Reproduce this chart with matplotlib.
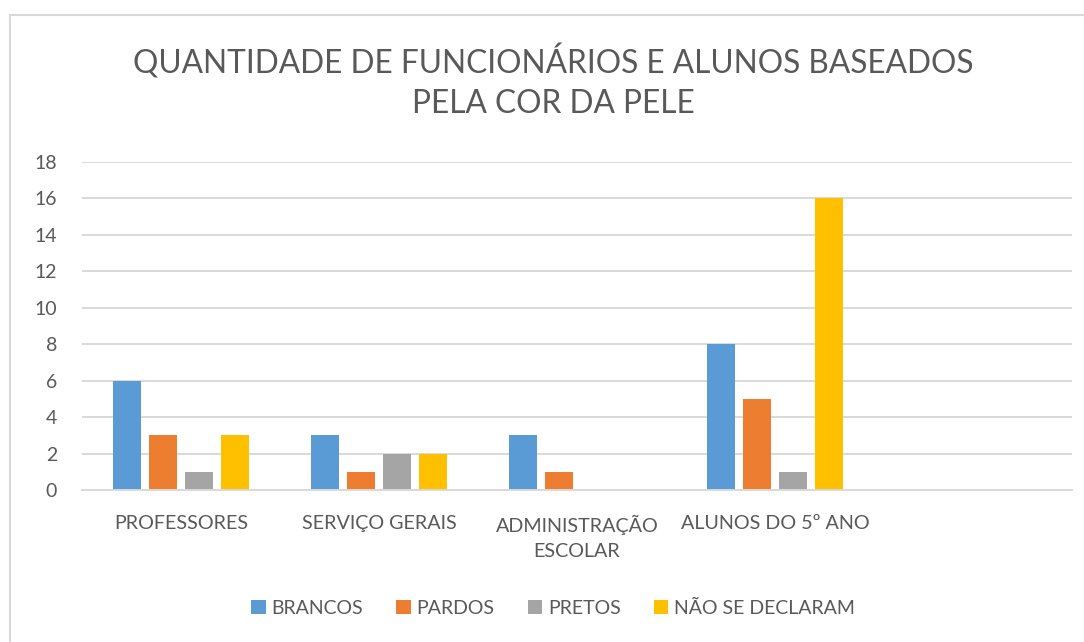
import numpy as np
import matplotlib.pyplot as plt
from matplotlib.patches import Patch
from matplotlib.lines import Line2D

plt.rcParams['font.family'] = ['Lato', 'DejaVu Sans']

# Data
categorias = ['PROFESSORES', 'SERVIÇO GERAIS', 'ADMINISTRAÇÃO\nESCOLAR', 'ALUNOS DO 5º ANO', '']
series = ['BRANCOS', 'PARDOS', 'PRETOS', 'NÃO SE DECLARAM']
brancos = [6, 3, 3, 8, 0]
pardos = [3, 1, 1, 5, 0]
pretos = [1, 2, 0, 1, 0]
nao_declaram = [3, 2, 0, 16, 0]
valores = [brancos, pardos, pretos, nao_declaram]
cores = ['#5B9BD5', '#ED7D31', '#A5A5A5', '#FFC000']

texto_cor = '#595959'
grid_cor = '#D9D9D9'

fig = plt.figure(figsize=(10.84, 6.42), dpi=100)
ax = fig.add_axes([82 / 1084, 1 - 490 / 642, (1072 - 82) / 1084, (490 - 162) / 642])

x = np.arange(len(categorias))
largura = 28 / 198
passo = 36 / 198
for i, (nome, vals, cor) in enumerate(zip(series, valores, cores)):
    ax.bar(x + (i - 1.5) * passo, vals, largura, color=cor, label=nome, zorder=3)

ax.set_xlim(-0.5, len(categorias) - 0.5)
ax.set_ylim(0, 18)
ax.set_yticks(range(0, 19, 2))
ax.set_xticks(x)
ax.set_xticklabels(categorias, fontsize=14.2, color=texto_cor, linespacing=1.55)
ax.tick_params(axis='x', length=0, pad=18)
ax.tick_params(axis='y', length=0, pad=18, labelsize=14, labelcolor=texto_cor)
for lbl in ax.get_yticklabels():
    lbl.set_horizontalalignment('right')
ax.yaxis.grid(True, color=grid_cor, linewidth=1.4, zorder=0)
for s in ['top', 'right', 'left']:
    ax.spines[s].set_visible(False)
ax.spines['bottom'].set_color(grid_cor)
ax.spines['bottom'].set_linewidth(1.4)
ax.spines['bottom'].set_zorder(4)

fig.text(553 / 1084, 1 - 82 / 642, 'QUANTIDADE DE FUNCIONÁRIOS E ALUNOS BASEADOS\nPELA COR DA PELE',
         ha='center', va='center', fontsize=22.8, color=texto_cor, linespacing=1.4)

handles = [Patch(facecolor=c, label=n) for n, c in zip(series, cores)]
fig.legend(handles=handles, loc='center', bbox_to_anchor=(553 / 1084, 1 - 608 / 642), ncol=4,
           frameon=False, fontsize=14, labelcolor=texto_cor, handlelength=0.75, handleheight=0.75,
           handletextpad=0.3, columnspacing=1.7)

# moldura do gráfico
fig.add_artist(Line2D([10 / 1084, 10 / 1084], [0, 1 - 15 / 642], color=grid_cor, linewidth=1.5))
fig.add_artist(Line2D([10 / 1084, 1], [1 - 15 / 642, 1 - 15 / 642], color=grid_cor, linewidth=1.5))

plt.savefig('out.png', dpi=100)
